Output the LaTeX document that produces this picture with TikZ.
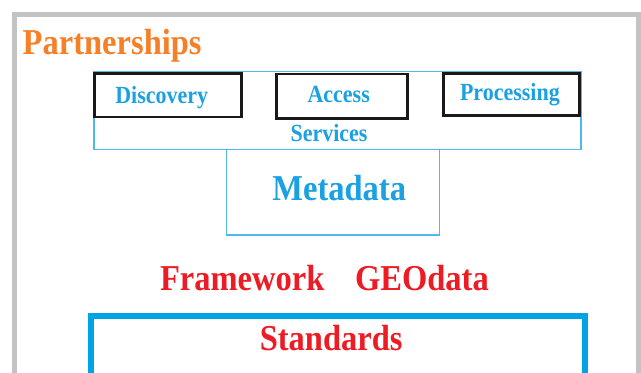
\documentclass[tikz,border=0pt]{standalone}
\usepackage{fontspec}
\setmainfont{Liberation Serif}
\usepackage{graphicx}
\usepackage{tikz}
\usetikzlibrary{positioning}

\definecolor{partorange}{RGB}{245,128,40}
\definecolor{svcblue}{RGB}{27,161,226}
\definecolor{lineblue}{RGB}{80,185,235}
\definecolor{stdblue}{RGB}{0,164,228}
\definecolor{geored}{RGB}{237,28,36}
\definecolor{framegray}{RGB}{195,195,195}

\newcommand{\pxl}{0.75pt}
\newcommand{\tall}[1]{\scalebox{1}[1.12]{#1}}

\begin{document}
\begin{tikzpicture}[
    x=0.75pt, y=-0.75pt,
    every node/.style={inner sep=0pt, outer sep=0pt},
    lbl/.style={anchor=base, font=\bfseries},
    big/.style={lbl, font=\fontsize{24.4}{28}\bfseries\selectfont},
    small/.style={lbl, font=\fontsize{16.5}{19}\bfseries\selectfont, text=svcblue},
    svcbox/.style={draw=lineblue, line width=1.3*\pxl},
    tool/.style={draw=black!90, line width=2.8*\pxl}
]
\useasboundingbox (0,0) rectangle (641,372);
\begin{scope}
\clip (0,0) rectangle (641,372);
\draw[framegray, line width=5*\pxl] (14.5,14.5) rectangle (638.5,420);
\node (standards box) [draw=stdblue, line width=6*\pxl, minimum width=494*\pxl, minimum height=120*\pxl] at (338.3,376.3) {};
\end{scope}

\node (partners) [big, anchor=base west, text=partorange] at (22.7,54.3) {\tall{Partnerships}};

\node (services) [svcbox, minimum width=487*\pxl, minimum height=78*\pxl] at (337.5,110.5) {};
\node (meta) [svcbox, minimum width=213*\pxl, minimum height=85.5*\pxl] at (332.8,192.3) {};

\node (discovery) [tool, minimum width=146.8*\pxl, minimum height=43.5*\pxl] at (167.9,95.3) {};
\node (access) [tool, minimum width=131.4*\pxl, minimum height=44.7*\pxl] at (342,96.4) {};
\node (processing) [tool, minimum width=136.1*\pxl, minimum height=41.8*\pxl] at (511.4,94.5) {};

\node (discovery text) [small] at (161.7,103) {\tall{Discovery}};
\node (access text) [small] at (338.7,102.7) {\tall{Access}};
\node (processing text) [small] at (509.9,100.7) {\tall{Processing}};
\node (services text) [small] at (329,141) {\tall{Services}};

\node (meta text) [big, text=svcblue] at (339.2,200) {\tall{Metadata}};

\node (framework) [big, anchor=base west, text=geored] at (160,290.5) {\tall{Framework}};
\node (geodata) [big, anchor=base west, text=geored] at (355,290.3) {\tall{GEOdata}};

\node (standards) [big, text=geored] at (331.2,350) {\tall{Standards}};
\end{tikzpicture}
\end{document}
